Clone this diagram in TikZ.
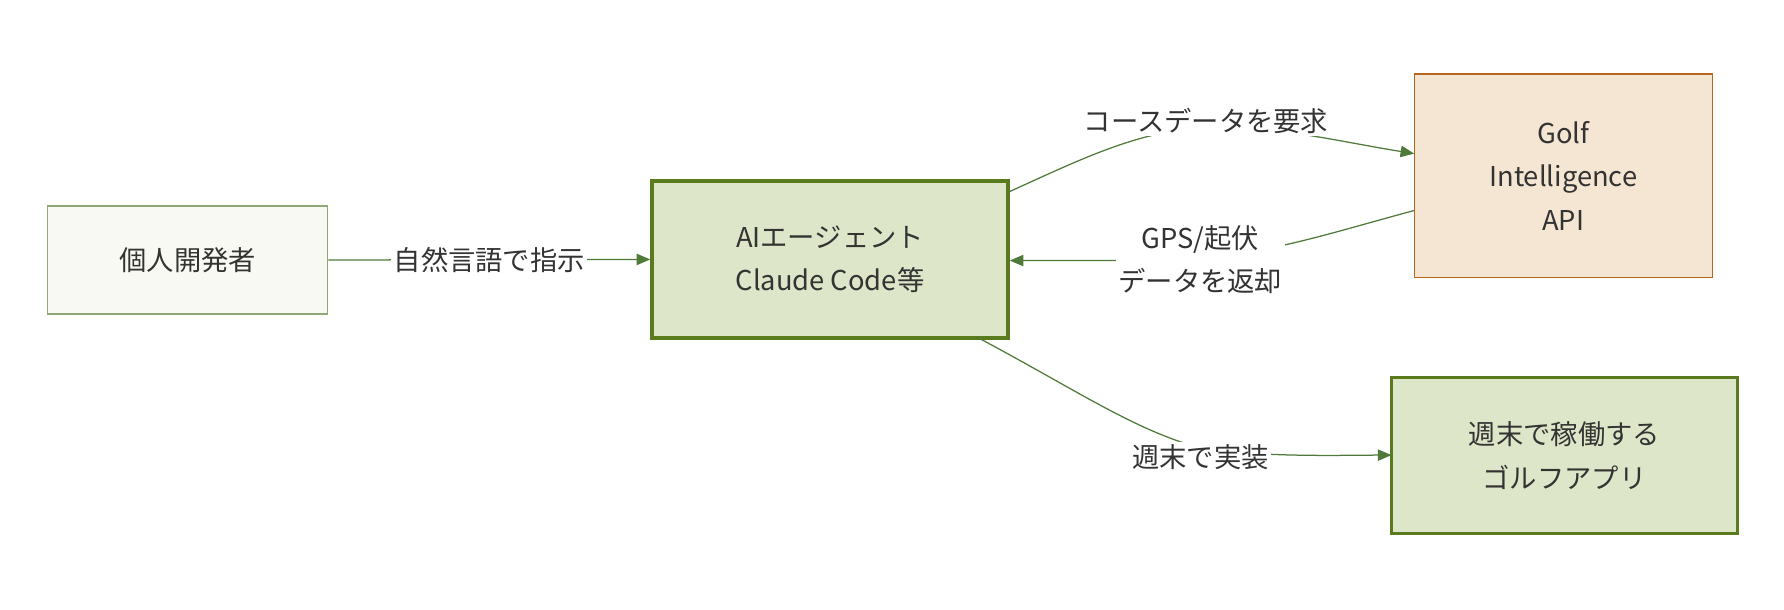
\documentclass[tikz,border=0pt]{standalone}
\usepackage{fontspec}
\setmainfont{Noto Sans CJK JP}
\usetikzlibrary{arrows.meta}
\definecolor{txt}{HTML}{333333}
\definecolor{gfill}{HTML}{DDE6C8}
\definecolor{gline}{HTML}{5A7A1E}
\definecolor{lfill}{HTML}{F8F9F2}
\definecolor{lline}{HTML}{8FA876}
\definecolor{ofill}{HTML}{F5E6D3}
\definecolor{oline}{HTML}{B5651D}
\definecolor{arr}{HTML}{4F7A3A}
\begin{document}
\begin{tikzpicture}[x=1pt,y=-1pt,
 box/.style={draw, minimum width=#1, align=center, text=txt, font=\fontsize{24}{38}\selectfont, inner sep=0},
 lab/.style={fill=white, text=txt, font=\fontsize{24}{38}\selectfont, align=center, inner sep=2pt},
 con/.style={draw=arr, line width=1.1pt, -{Triangle[length=12pt,width=10pt]}}]
\useasboundingbox (0,0) rectangle (1568,536);
\node[box=246pt, minimum height=95pt, fill=lfill, draw=lline, line width=1.2pt] (dev) at (165,228.5) {個人開発者};
\node[box=313pt, minimum height=138pt, fill=gfill, draw=gline, line width=3pt] (ai) at (729.5,228) {AIエージェント\\Claude Code等};
\node[box=262pt, minimum height=179pt, fill=ofill, draw=oline, line width=1.2pt] (api) at (1374,154.5) {Golf\\Intelligence\\API};
\node[box=304pt, minimum height=137pt, fill=gfill, draw=gline, line width=3pt] (app) at (1375,400.5) {週末で稼働する\\ゴルフアプリ};
\draw[con] (dev.east) -- node[lab] {自然言語で指示} (ai.west);
\coordinate (a1) at (886,169);
\coordinate (b1) at (1243,135);
\draw[con] (a1) .. controls (950,140) and (1000,115) .. (1060,112) .. controls (1120,110) and (1180,125) .. (b1);
\node[lab] at (1060,106) {コースデータを要求};
\coordinate (a2) at (1243,185);
\draw[con] (a2) .. controls (1150,210) and (1100,229) .. (1000,229) -- (ai.east |- 0,229);
\node[lab] at (1055,228) {GPS/起伏\\データを返却};
\coordinate (a3) at (860,297);
\coordinate (b3) at (1223,400);
\draw[con] (a3) .. controls (950,345) and (1000,380) .. (1060,395) .. controls (1120,402) and (1180,400) .. (b3);
\node[lab] at (1055,402) {週末で実装};
\end{tikzpicture}
\end{document}
